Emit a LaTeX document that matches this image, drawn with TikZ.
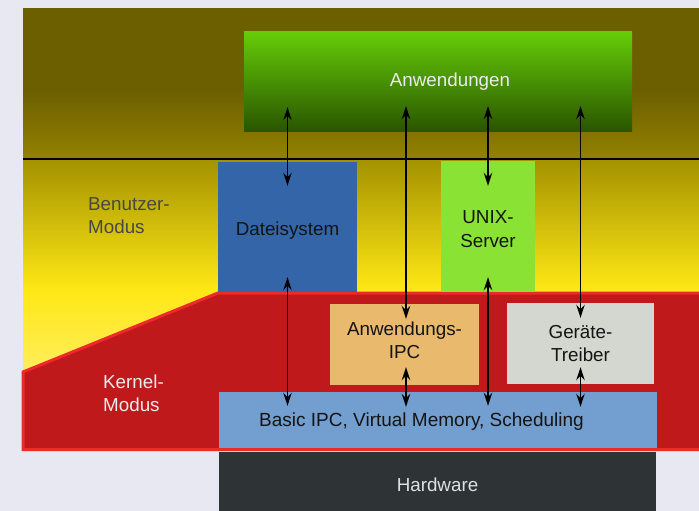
\documentclass[tikz,border=0pt]{standalone}
\usepackage{fontspec}
\setmainfont{Liberation Sans}
\usetikzlibrary{arrows.meta,calc}
\definecolor{bgc}{HTML}{E8E8F2}
\definecolor{olive}{HTML}{6B5F00}
\definecolor{olive2}{HTML}{938200}
\definecolor{yel0}{HTML}{A39200}
\definecolor{yel1}{HTML}{FFE815}
\definecolor{yel2}{HTML}{FFEE60}
\definecolor{kred}{HTML}{C0191C}
\definecolor{kredb}{HTML}{EF2929}
\definecolor{gtop}{HTML}{66CC08}
\definecolor{gbot}{HTML}{2A5500}
\definecolor{cdat}{HTML}{3465A8}
\definecolor{cunix}{HTML}{8AE234}
\definecolor{cipc}{HTML}{E9B96E}
\definecolor{cger}{HTML}{D3D7CF}
\definecolor{cbasic}{HTML}{729FCF}
\definecolor{chw}{HTML}{2E3436}
\newcommand\shiftt[3][1]{\raisebox{#2}[\height][\depth]{\renewcommand\arraystretch{#1}\begin{tabular}{@{}c@{}}#3\end{tabular}}}
\tikzset{
  boxn/.style={inner sep=0pt, minimum width=#1, align=center, font=\fontsize{18.8}{23}\selectfont, text=black!92},
  arr/.style={line width=1.7pt, {Stealth[length=13pt,width=8.5pt,inset=4.5pt]}-{Stealth[length=13pt,width=8.5pt,inset=4.5pt]}},
  lbl/.style={inner sep=0pt, anchor=west, align=left, font=\fontsize{18.8}{23}\selectfont}
}
\begin{document}
\begin{tikzpicture}[x=1pt,y=-1pt]
\useasboundingbox (0,0) rectangle (699,511);
\fill[bgc] (0,0) rectangle (699,511);
% user mode background
\fill[olive] (23,8) rectangle (699,90);
\shade[top color=olive, bottom color=olive2] (23,90) rectangle (699,159);
\shade[top color=yel0, bottom color=yel1] (23,159) rectangle (699,290);
\shade[top color=yel1, bottom color=yel2] (23,290) rectangle (699,375);
\draw[line width=2.8pt, black] (23,159) -- (699,159);
% kernel mode region
\filldraw[fill=kred, draw=kredb, line width=3pt] (23,372) -- (218,293) -- (701,293) -- (701,449.5) -- (23,449.5) -- cycle;
% boxes
\node[boxn=388pt, minimum height=99pt, top color=gtop, bottom color=gbot,
  label={[xshift=12pt,yshift=-0.5pt,text=white!92!black,font=\fontsize{18.8}{23}\selectfont]center:Anwendungen}] (anw) at (438,81.5) {};
\node[boxn=139pt, minimum height=130pt, fill=cdat] (dat) at (287.5,227) {\shiftt{-3.5pt}{Dateisystem}};
\node[boxn=94pt, minimum height=131pt, fill=cunix] (unix) at (488,226.5) {\shiftt[1.07]{-4pt}{UNIX-\\Server}};
\node[boxn=149pt, minimum height=81pt, fill=cipc] (aipc) at (404.5,344.5) {\shiftt{2pt}{Anwendungs-\\IPC}};
\node[boxn=147pt, minimum height=81pt, fill=cger] (ger) at (580.5,343.5) {Geräte-\\Treiber};
\node[boxn=438pt, minimum height=56pt, fill=cbasic,
  label={[xshift=-16.5pt,yshift=-2pt,text=black!92,font=\fontsize{19}{23}\selectfont]center:{Basic IPC, Virtual Memory, Scheduling}}] (basic) at (438,420) {};
\node[boxn=437pt, minimum height=66pt, fill=chw, text=white!88!black] (hw) at (437.5,485) {Hardware};
% mode labels
\node[lbl, text=black!72] (um) at (88,216) {Benutzer-\\Modus};
\node[lbl, text=white!92!black] (km) at (103,393) {Kernel-\\Modus};
% connectors
\draw[arr, shorten <=-24pt, shorten >=-24pt] (anw.south -| dat.center) -- (dat.north);
\draw[arr, shorten <=-15pt, shorten >=-14pt] (dat.south) -- (basic.north -| dat.south);
\draw[arr, shorten <=-25pt, shorten >=-15pt] (anw.south -| 406,0) -- (aipc.north -| 406,0);
\draw[arr, shorten <=-18pt, shorten >=-15pt] (aipc.south -| 406,0) -- (basic.north -| 406,0);
\draw[arr, shorten <=-25pt, shorten >=-25pt] (anw.south -| unix.center) -- (unix.north);
\draw[arr, shorten <=-15pt, shorten >=-14pt] (unix.south) -- (basic.north -| unix.south);
\draw[arr, shorten <=-25pt, shorten >=-15pt] (anw.south -| ger.center) -- (ger.north);
\draw[arr, shorten <=-17pt, shorten >=-15pt] (ger.south) -- (basic.north -| ger.south);
\end{tikzpicture}
\end{document}
